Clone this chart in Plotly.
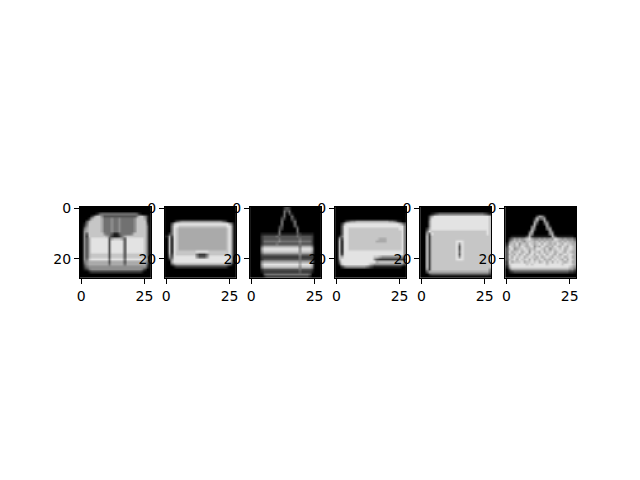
import plotly.graph_objects as go

# 28x28 grey levels, one digit per pixel (0 = black, 9 = white)
bag_1 = [
    "0000000" "0000000" "0000000" "0000000",
    "0000000" "0000000" "0000000" "0000000",
    "0000001" "3444444" "4444444" "4310000",
    "0000257" "7533333" "3333333" "3577520",
    "0002677" "7644454" "4544444" "5777620",
    "0036777" "7644454" "4544444" "5777720",
    "0147777" "7644454" "4544444" "5777730",
    "0257777" "7644454" "4544444" "5777740",
    "0467777" "7644454" "4544444" "5777740",
    "0567777" "7644454" "4544444" "5777740",
    "0537777" "7754431" "1344445" "7777740",
    "0527777" "7776421" "1246777" "7777740",
    "0536888" "8888367" "7763888" "8888740",
    "0536888" "8888388" "8883888" "8888740",
    "0536888" "8888388" "8883888" "8888740",
    "0536888" "8888388" "8883888" "8888740",
    "0536888" "8888388" "8883888" "8888740",
    "0536888" "8888388" "8883888" "8888740",
    "0536777" "7777377" "7773777" "7777740",
    "0536777" "7777377" "7773777" "7777740",
    "0547888" "8888488" "8884888" "8888750",
    "0456666" "6666366" "6663666" "6666640",
    "0356666" "6666466" "6664666" "6666630",
    "0245555" "5555555" "5555555" "5555520",
    "0124555" "5555555" "5555555" "5554200",
    "0001222" "2222222" "2222222" "2221000",
    "0000000" "0000000" "0000000" "0000000",
    "0000000" "0000000" "0000000" "0000000",
]

bag_2 = [
    "0000000" "0000000" "0000000" "0000000",
    "0000000" "0000000" "0000000" "0000000",
    "0000000" "0000000" "0000000" "0000000",
    "0000000" "0000000" "0000000" "0000000",
    "0000000" "0000000" "0000000" "0000000",
    "0001345" "5555555" "5555555" "5431000",
    "0037888" "8888888" "8888888" "8888630",
    "0048877" "7777777" "7777777" "7778840",
    "0048766" "6666666" "6666666" "6667840",
    "0048766" "6666666" "6666666" "6667840",
    "0248766" "6666666" "6666666" "6667840",
    "1628766" "6666666" "6666666" "6667840",
    "0718766" "6666666" "6666666" "6667840",
    "0718766" "6666666" "6666666" "6667840",
    "0718766" "6666666" "6666666" "6667840",
    "0718766" "6666666" "6666666" "6667840",
    "0718766" "6666666" "6666666" "6667840",
    "0718777" "7777788" "8887777" "7777840",
    "0628777" "7777742" "2247777" "7777840",
    "0538888" "8888853" "3358888" "8888840",
    "0258888" "8888888" "8888888" "8888840",
    "0068888" "8888888" "8888888" "8888730",
    "0035666" "6666666" "6666666" "6665410",
    "0001222" "2222222" "2222222" "2221000",
    "0000000" "0000000" "0000000" "0000000",
    "0000000" "0000000" "0000000" "0000000",
    "0000000" "0000000" "0000000" "0000000",
    "0000000" "0000000" "0000000" "0000000",
]

bag_3 = [
    "0000000" "0000002" "3200000" "0000000",
    "0000000" "0000004" "2400000" "0000000",
    "0000000" "0000004" "0310000" "0000000",
    "0000000" "0000014" "0040000" "0000000",
    "0000000" "0000032" "0031000" "0000000",
    "0000000" "0000040" "0014000" "0000000",
    "0000000" "0000040" "0004000" "0000000",
    "0000000" "0000230" "0003200" "0000000",
    "0000000" "0000320" "0000400" "0000000",
    "0000000" "0000400" "0000400" "0000000",
    "0000111" "1111411" "1111321" "1111000",
    "0000233" "3334333" "3333433" "3332000",
    "0000233" "3333433" "3333343" "3332000",
    "0000244" "4444544" "4444454" "4442000",
    "0000233" "3334333" "3333343" "3332000",
    "0000466" "6666666" "6666646" "6664000",
    "0000688" "8888888" "8888858" "8886000",
    "0000577" "7777777" "7777757" "7775000",
    "0000344" "4444444" "4444454" "4443000",
    "0000222" "2222222" "2222242" "2222000",
    "0000233" "3333333" "3333343" "3332000",
    "0000566" "6666666" "6666656" "6665000",
    "0000688" "8888888" "8888868" "8886000",
    "0000577" "7777777" "7777757" "7775000",
    "0000233" "3333333" "3333343" "3332000",
    "0000122" "2222222" "2222232" "2221000",
    "0000034" "4444444" "4444444" "4430000",
    "0000012" "2222222" "2222222" "2210000",
]

bag_4 = [
    "0000000" "0000000" "0000000" "0000000",
    "0000000" "0000000" "0000000" "0000000",
    "0000000" "0000000" "0000000" "0000000",
    "0000000" "0000000" "0000000" "0000000",
    "0000000" "0000000" "0000000" "0000000",
    "0001345" "5666666" "6666666" "5542100",
    "0026888" "8888888" "8888888" "8888753",
    "0038888" "8888888" "8888888" "8888884",
    "0038877" "7777777" "7777777" "7777884",
    "0038877" "7777777" "7777777" "7777784",
    "0038877" "7777777" "7777777" "7777784",
    "0248877" "7777777" "7777777" "7777784",
    "0628877" "7777777" "7776667" "7777784",
    "0718877" "7777777" "7766667" "7777784",
    "0718877" "7777777" "7777777" "7777784",
    "0718877" "7777777" "7777777" "7777784",
    "0718877" "7777777" "7777777" "7777784",
    "0718888" "8888888" "8888888" "8888884",
    "0728888" "8888888" "8888888" "8888884",
    "0768888" "8888888" "8776555" "5555554",
    "0688888" "8888888" "8532222" "2222222",
    "0488888" "8888888" "8867777" "7777774",
    "0278888" "8888887" "6555555" "5555542",
    "0024555" "5555543" "2111111" "1111100",
    "0000000" "0000000" "0000000" "0000000",
    "0000000" "0000000" "0000000" "0000000",
    "0000000" "0000000" "0000000" "0000000",
    "0000000" "0000000" "0000000" "0000000",
]

bag_5 = [
    "0000000" "0000000" "0000000" "0000000",
    "0000000" "0000000" "0000000" "0000000",
    "0000123" "4444444" "4444444" "4444321",
    "0003688" "8888888" "8888888" "8888887",
    "0004888" "8888888" "8888888" "8888887",
    "0005888" "8888888" "8888888" "8888887",
    "0005888" "8888888" "8888888" "8888887",
    "0005888" "8888888" "8888888" "8888887",
    "0026888" "8888888" "8888888" "8888887",
    "0048777" "7777777" "7777777" "7777787",
    "0063877" "7777777" "7777777" "7777787",
    "0072777" "7777777" "7777777" "7777777",
    "0072777" "7777777" "7777777" "7777777",
    "0072777" "7777777" "8887777" "7777777",
    "0072777" "7777777" "8587777" "7777777",
    "0072777" "7777777" "8387777" "7777777",
    "0072777" "7777777" "8387777" "7777777",
    "0072777" "7777777" "8487777" "7777777",
    "0072777" "7777777" "8387777" "7777777",
    "0072777" "7777777" "8587777" "7777777",
    "0072777" "7777777" "8887777" "7777777",
    "0072777" "7777777" "7777777" "7777777",
    "0072777" "7777777" "7777777" "7777777",
    "0072777" "7777777" "7777777" "7777777",
    "0062777" "7777777" "7777777" "7777775",
    "0036666" "6666666" "6666666" "6666664",
    "0002333" "3333333" "3333333" "3333332",
    "0000000" "0000000" "0000000" "0000000",
]

bag_6 = [
    "0000000" "0000000" "0000000" "0000000",
    "0000000" "0000000" "0000000" "0000000",
    "0000000" "0000000" "0000000" "0000000",
    "0000000" "0000036" "5200000" "0000000",
    "0000000" "0000273" "4600000" "0000000",
    "0000000" "0000550" "0630000" "0000000",
    "0000000" "0000720" "0360000" "0000000",
    "0000000" "0004600" "0062000" "0000000",
    "0000000" "0006400" "0046000" "0000000",
    "0000000" "0037100" "0006300" "0000000",
    "0000000" "0065000" "0005600" "0000000",
    "0011111" "1372111" "1111731" "1111110",
    "0246565" "6786556" "5656587" "6565553",
    "0467676" "5777676" "7676777" "6767665",
    "1676857" "7687678" "6876768" "7687766",
    "2876768" "7678576" "8767687" "6876876",
    "3785677" "8767688" "7685778" "7867876",
    "3867786" "7858776" "8677867" "8768766",
    "3776867" "8678687" "7868768" "6787876",
    "3868778" "6787768" "6787687" "7867866",
    "3778687" "7868677" "8676878" "7686876",
    "2867778" "6778786" "7868687" "8767866",
    "2788888" "8787888" "8878888" "8788876",
    "1688888" "8888888" "8888888" "8888765",
    "0366666" "6666666" "6666666" "6666553",
    "0123333" "3333333" "3333333" "3333221",
    "0000000" "0000000" "0000000" "0000000",
    "0000000" "0000000" "0000000" "0000000",
]

images = [bag_1, bag_2, bag_3, bag_4, bag_5, bag_6]
x_ticks = [0, 25]
y_ticks = [0, 20]

W, H = 640, 480
# the page body has an 8px margin, so pull the axes back by that much
off_x, off_y = 8 / W, 8 / H
# matplotlib-like 1x6 grid: left .125, right .9, wspace .2, square axes centred
ax_w = 0.775 / (6 + 5 * 0.2)
step = ax_w * 1.2
half_h = ax_w * W / H / 2
y_dom = [0.495 - half_h + off_y, 0.495 + half_h + off_y]


def to_grid(rows):
    return [[int(c) for c in r.ljust(28, "0")[:28]] for r in rows]


fig = go.Figure()
axis_style = dict(
    showline=True, mirror=True, linecolor="black", linewidth=1,
    ticks="outside", ticklen=5, tickwidth=1, tickcolor="black",
    showgrid=False, zeroline=False, tickmode="array", automargin=False,
    tickfont=dict(family="DejaVu Sans", size=14, color="black"),
)

for i, img in enumerate(images):
    n = "" if i == 0 else str(i + 1)
    fig.add_trace(go.Heatmap(
        z=to_grid(img), zmin=0, zmax=9, zsmooth="best",
        colorscale=[[0, "black"], [1, "white"]], showscale=False,
        hoverinfo="skip", xaxis="x" + n, yaxis="y" + n,
    ))
    left = 0.125 + i * step - off_x
    fig.layout["xaxis" + n] = dict(
        axis_style, domain=[left, left + ax_w], range=[-0.5, 27.5],
        tickvals=x_ticks, anchor="y" + n,
    )
    fig.layout["yaxis" + n] = dict(
        axis_style, domain=y_dom, range=[27.5, -0.5],
        tickvals=y_ticks, anchor="x" + n,
    )

fig.update_layout(
    width=W, height=H, margin=dict(l=0, r=0, t=0, b=0),
    paper_bgcolor="white", plot_bgcolor="white", showlegend=False,
)
fig.write_html("out.html")
